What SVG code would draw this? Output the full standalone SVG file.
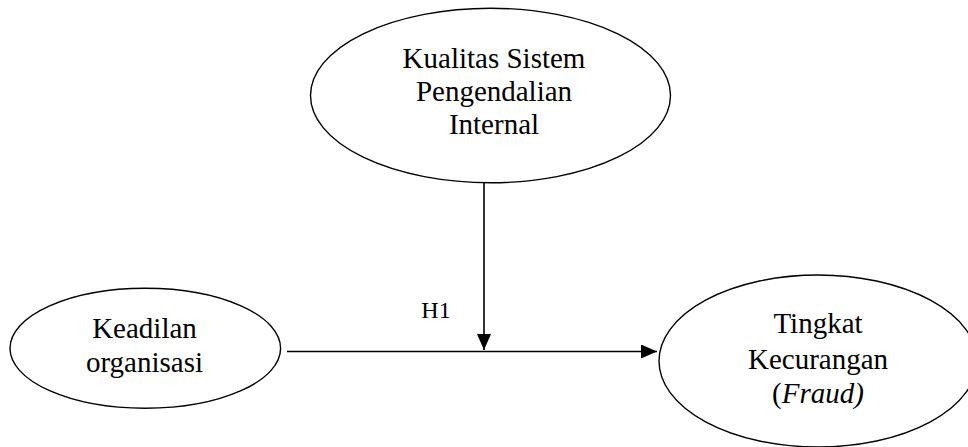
<svg xmlns="http://www.w3.org/2000/svg" width="968" height="447" viewBox="0 0 968 447">
  <style>
    .node { fill: #ffffff; stroke: #000000; stroke-width: 1.4; }
    .label { font-family: "Liberation Serif", "Times New Roman", serif; font-size: 29px; fill: #000000; text-anchor: middle; }
    .edge { stroke: #000000; stroke-width: 1.6; fill: none; }
  </style>
  <defs>
    <marker id="arrow" markerUnits="userSpaceOnUse" markerWidth="16" markerHeight="14" refX="16" refY="7" orient="auto">
      <path d="M0,0 L16,7 L0,14 z" fill="#000000"/>
    </marker>
  </defs>
  <rect x="0" y="0" width="968" height="447" fill="#ffffff"/>

  <g id="node-kualitas">
    <ellipse class="node" cx="490.5" cy="95.5" rx="180" ry="87.3"/>
    <text class="label" x="494" y="67.5">Kualitas Sistem</text>
    <text class="label" x="494" y="100.5">Pengendalian</text>
    <text class="label" x="494" y="133.5">Internal</text>
  </g>

  <g id="node-keadilan">
    <ellipse class="node" cx="145.3" cy="348.3" rx="135.3" ry="60"/>
    <text class="label" x="144.5" y="338">Keadilan</text>
    <text class="label" x="144.5" y="372">organisasi</text>
  </g>

  <g id="node-fraud">
    <ellipse class="node" cx="818" cy="361" rx="159" ry="86"/>
    <text class="label" x="818" y="333">Tingkat</text>
    <text class="label" x="818" y="368.5">Kecurangan</text>
    <text class="label" x="818" y="403">(<tspan font-style="italic">Fraud)</tspan></text>
  </g>

  <g id="connectors">
    <line class="edge" x1="287" y1="351.5" x2="657" y2="351.5" marker-end="url(#arrow)"/>
    <line class="edge" x1="484" y1="183" x2="484" y2="350" marker-end="url(#arrow)"/>
    <text class="label" x="436" y="318" style="font-size:24px">H1</text>
  </g>
</svg>
